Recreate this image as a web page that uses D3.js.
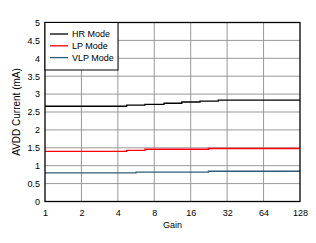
<!DOCTYPE html>
<html><head><meta charset="utf-8">
<script src="https://cdn.jsdelivr.net/npm/d3@7"></script>
<style>html,body{margin:0;padding:0;background:#fff}svg{display:block}text{font-family:"Liberation Sans",Arial,sans-serif}</style>
</head><body><svg id="c" width="316" height="243"></svg>
<script>
const xTicks = [1,2,4,8,16,32,64,128];
const yTicks = [0,0.5,1,1.5,2,2.5,3,3.5,4,4.5,5];
const seriesNames = ["HR Mode","LP Mode","VLP Mode"];
const seriesColors = ["#000000","#ff0000","#2f5d75"];
const hrGain = [1,4.73,6.7,9.63,13.5,19.1,27.0,128];
const hrCurrent = [2.66,2.69,2.715,2.745,2.78,2.805,2.83,2.83];
const lpGain = [1,4.73,6.7,22.4,128];
const lpCurrent = [1.40,1.43,1.46,1.48,1.48];
const vlpGain = [1,5.65,22.4,128];
const vlpCurrent = [0.80,0.82,0.845,0.845];

const svg = d3.select("#c");
const L=45, R=300, T=22.5, B=201.5;
const x = d3.scaleLog().base(2).domain([1,128]).range([L,R]);
const y = d3.scaleLinear().domain([0,5]).range([B,T]);

// grid
svg.append("g").selectAll("line").data(xTicks.slice(1,-1)).join("line")
  .attr("x1",d=>x(d)).attr("x2",d=>x(d)).attr("y1",T).attr("y2",B)
  .attr("stroke","#999").attr("stroke-width",1);
svg.append("g").selectAll("line").data(yTicks.slice(1,-1)).join("line")
  .attr("x1",L).attr("x2",R).attr("y1",d=>y(d)).attr("y2",d=>y(d))
  .attr("stroke","#999").attr("stroke-width",1);

// series
const series = [[hrGain,hrCurrent],[lpGain,lpCurrent],[vlpGain,vlpCurrent]];
const line = d3.line().x(d=>x(d[0])).y(d=>y(d[1])).curve(d3.curveStepAfter);
series.forEach((s,i)=>{
  const pts = s[0].map((g,j)=>[g,s[1][j]]);
  svg.append("path").attr("d",line(pts)).attr("fill","none")
    .attr("stroke",seriesColors[i]).attr("stroke-width",1.3);
});

// frame
svg.append("rect").attr("x",L).attr("y",T).attr("width",R-L).attr("height",B-T)
  .attr("fill","none").attr("stroke","#000").attr("stroke-width",1.3);

// axes
const xa = svg.append("g").attr("transform",`translate(0,${B})`)
  .call(d3.axisBottom(x).tickValues(xTicks).tickFormat(d3.format("d")).tickSize(0).tickPadding(8));
const ya = svg.append("g").attr("transform",`translate(${L},0)`)
  .call(d3.axisLeft(y).tickValues(yTicks).tickFormat(d=>d).tickSize(0).tickPadding(5));
[xa,ya].forEach(a=>{a.select(".domain").remove();a.selectAll("text").attr("font-size",9).attr("fill","#000").attr("font-family","Liberation Sans, Arial, sans-serif");});

svg.append("text").attr("x",(L+R)/2).attr("y",227.5).attr("text-anchor","middle")
  .attr("font-size",9).text("Gain");
svg.append("text").attr("transform",`translate(19.5,${(T+B)/2}) rotate(-90)`)
  .attr("text-anchor","middle").attr("font-size",10).text("AVDD Current (mA)");

// legend
const lg = svg.append("g");
lg.append("rect").attr("x",L).attr("y",T).attr("width",73).attr("height",47.5)
  .attr("fill","#fff").attr("stroke","#000").attr("stroke-width",1);
seriesNames.forEach((n,i)=>{
  const yy = 34 + i*11.8;
  lg.append("line").attr("x1",50).attr("x2",68).attr("y1",yy).attr("y2",yy)
    .attr("stroke",seriesColors[i]).attr("stroke-width",1.3);
  lg.append("text").attr("x",72).attr("y",yy+3.2).attr("font-size",9).text(n);
});
</script></body></html>
